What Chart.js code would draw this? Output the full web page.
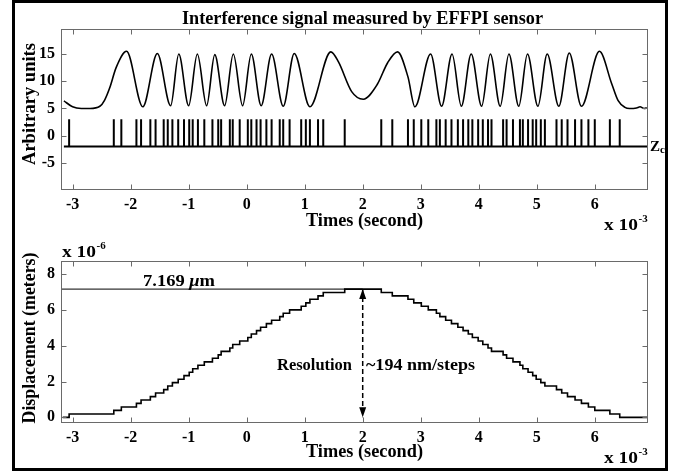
<!DOCTYPE html>
<html><head><meta charset="utf-8">
<script src="https://cdn.jsdelivr.net/npm/chart.js@4/dist/chart.umd.min.js"></script>
<style>
html,body{margin:0;padding:0;background:#fff;}
#wrap{position:relative;width:675px;height:472px;overflow:hidden;background:#fff;}
#frame{position:absolute;left:12px;top:0;width:656px;height:471px;border:3px solid #000;box-sizing:border-box;}
canvas{position:absolute;left:0;}
#c1{top:0}
#c2{top:236px}
</style></head>
<body><div id="wrap"><div id="frame"></div>
<canvas id="c1" width="675" height="236"></canvas>
<canvas id="c2" width="675" height="236"></canvas></div>
<script>
// ---------- data ----------
const timeTicks = [-3,-2,-1,0,1,2,3,4,5,6];          // x 10^-3 s
const signalTicks = [-5,0,5,10,15];
const dispTicks = [0,2,4,6,8];                          // x 10^-6 m

const signalTime = [-3.15,-3.0,-2.85,-2.7,-2.53,-2.45,-2.36,-2.25,-2.07,-1.79,-1.54,-1.31,-1.17,-1.00,-0.85,-0.69,-0.55,-0.38,-0.23,-0.07,0.08,0.25,0.43,0.63,0.82,1.09,1.45,1.58,1.81,2.01,2.25,2.43,2.60,2.78,2.90,3.17,3.36,3.54,3.70,3.87,4.05,4.20,4.37,4.52,4.69,4.84,5.02,5.18,5.38,5.56,5.77,6.08,6.29,6.40,6.52,6.60,6.72,6.78,6.85,6.90];
const signalValue = [6.4,5.3,5.0,5.0,5.4,6.5,8.8,12.5,15.5,5.3,15.1,5.5,15.0,5.5,15.0,5.5,14.9,5.5,15.0,5.5,15.0,5.5,15.0,5.4,15.1,5.3,15.4,13.6,8.1,6.7,9.4,13.4,15.4,10.8,5.3,15.0,5.4,15.0,5.4,15.0,5.4,15.0,5.4,15.0,5.4,15.0,5.4,15.0,5.4,15.2,5.4,15.5,9.6,6.5,5.2,5.0,5.1,5.3,5.0,5.1];

const pulseTimes = [-3.06,-2.29,-2.16,-1.90,-1.82,-1.66,-1.57,-1.43,-1.36,-1.28,-1.18,-1.08,-0.99,-0.93,-0.84,-0.73,-0.59,-0.49,-0.44,-0.29,-0.24,-0.12,0.02,0.08,0.17,0.24,0.34,0.43,0.57,0.63,0.74,0.94,1.02,1.09,1.23,1.32,1.69,
  2.32,2.51,2.78,2.88,3.01,3.13,3.27,3.33,3.43,3.53,3.64,3.73,3.82,3.89,3.99,4.07,4.16,4.22,4.42,4.48,4.59,4.71,4.76,4.85,4.93,4.99,5.07,5.14,5.34,5.43,5.53,5.66,5.77,5.89,6.00,6.26,6.43];
const pulseLow = -2;   // Zc level
const pulseHigh = 3;
const pulseStart = -3.15, pulseEnd = 6.9;

// displacement level (micrometres) reached after each pulse
const dispLevels = [0.19,0.39,0.58,0.78,0.97,1.16,1.36,1.55,1.75,1.94,2.13,2.33,2.52,2.72,2.91,3.10,3.30,3.49,3.69,3.88,4.07,4.27,4.46,4.66,4.85,5.04,5.24,5.43,5.63,5.82,6.01,6.21,6.40,6.60,6.79,6.98,7.17,
  6.98,6.79,6.60,6.40,6.21,6.01,5.82,5.63,5.43,5.24,5.04,4.85,4.66,4.46,4.27,4.07,3.88,3.69,3.49,3.30,3.10,2.91,2.72,2.52,2.33,2.13,1.94,1.75,1.55,1.36,1.16,0.97,0.78,0.58,0.39,0.19,0.00];
const dispStart = [-3.17, 0.0];
const dispEnd = [6.9, 0.0];
const peakDisplacement = 7.169;
const arrowTime = 2;

// ---------- rendering ----------
const FONT = "'Liberation Serif','Times New Roman',serif";
const X_MIN = -3.2, X_MAX = 6.9;

function txt(ctx, s, x, y, o) {
  o = Object.assign({size:16, weight:'bold', style:'normal', align:'left', baseline:'alphabetic', width:null, rotate:0}, o||{});
  ctx.save();
  ctx.font = `${o.style} ${o.weight} ${o.size}px ${FONT}`;
  ctx.textAlign = o.align; ctx.textBaseline = o.baseline; ctx.fillStyle = '#000';
  ctx.translate(x, y);
  if (o.rotate) ctx.rotate(o.rotate);
  if (o.width) { const w = ctx.measureText(s).width; ctx.scale(o.width / w, 1); }
  ctx.fillText(s, 0, 0);
  ctx.restore();
}
function multiplier(ctx, exp, x, y) {
  txt(ctx, 'x 10', x, y, {size: 16, width: 34});
  txt(ctx, exp, x + 34.5, y - 8, {size: 11});
}

const boxPlugin = {
  id: 'box',
  afterDatasetsDraw(chart) {
    const {ctx, chartArea: a, scales: {x, y}} = chart;
    ctx.save();
    ctx.strokeStyle = '#6a6a6a'; ctx.lineWidth = 1;
    const L = Math.round(a.left) + 0.5, R = Math.round(a.right) + 0.5, T = Math.round(a.top) + 0.5, B = Math.round(a.bottom) + 0.5;
    ctx.strokeRect(L, T, R - L, B - T);
    ctx.beginPath();
    const tl = 5;
    x.ticks.forEach(t => { const px = Math.round(x.getPixelForValue(t.value)) + 0.5; ctx.moveTo(px, B); ctx.lineTo(px, B - tl); ctx.moveTo(px, T); ctx.lineTo(px, T + tl); });
    y.ticks.forEach(t => { const py = Math.round(y.getPixelForValue(t.value)) + 0.5; ctx.moveTo(L, py); ctx.lineTo(L + tl, py); ctx.moveTo(R, py); ctx.lineTo(R - tl, py); });
    ctx.stroke();
    ctx.restore();
  }
};

function scaleCfg(min, max, ticks, fitFn) {
  return {
    type: 'linear', min, max,
    afterBuildTicks: s => { s.ticks = ticks.map(v => ({value: v})); },
    afterFit: fitFn,
    grid: {display: false, drawTicks: false},
    border: {display: false},
    ticks: {font: {family: FONT, size: 16, weight: 'bold'}, color: '#000', padding: 6, maxRotation: 0, autoSkip: false, callback: v => String(v)}
  };
}

// ---- top chart ----
const signalData = signalTime.map((t, i) => ({x: t, y: signalValue[i]}));
const pulseData = [{x: pulseStart, y: pulseLow}];
pulseTimes.forEach(t => { pulseData.push({x: t, y: pulseLow}, {x: t, y: pulseHigh}, {x: t, y: pulseLow}); });
pulseData.push({x: pulseEnd, y: pulseLow});

const topText = {
  id: 'topText',
  afterDraw(chart) {
    const ctx = chart.ctx;
    txt(ctx, 'Interference signal measured by EFFPI sensor', 362.5, 24, {size: 18, align: 'center', width: 361});
    txt(ctx, 'Arbitrary units', 30, 104, {size: 18, align: 'center', baseline: 'middle', rotate: -Math.PI / 2, width: 122});
    txt(ctx, 'Times (second)', 364.5, 226, {size: 18, align: 'center', width: 117});
    multiplier(ctx, '-3', 604, 230);
    txt(ctx, 'Z', 650, 151, {size: 15});
    txt(ctx, 'c', 660, 153, {size: 11});
  }
};

new Chart(document.getElementById('c1'), {
  type: 'line',
  data: {datasets: [
    {data: signalData, borderColor: '#000', borderWidth: 1.6, pointRadius: 0, cubicInterpolationMode: 'monotone', fill: false},
    {data: pulseData, borderColor: '#000', borderWidth: 2, pointRadius: 0, tension: 0, fill: false}
  ]},
  options: {
    responsive: false, animation: false, devicePixelRatio: 1,
    layout: {padding: {left: 0, right: 28, top: 29, bottom: 0}},
    plugins: {legend: {display: false}, tooltip: {enabled: false}},
    scales: {
      x: scaleCfg(X_MIN, X_MAX, timeTicks, s => { s.height = 47; }),
      y: scaleCfg(-9.8, 19.6, signalTicks, s => { s.width = 61; })
    }
  },
  plugins: [boxPlugin, topText]
});

// ---- bottom chart ----
const stairData = [{x: dispStart[0], y: dispStart[1]}];
pulseTimes.forEach((t, i) => stairData.push({x: t, y: dispLevels[i]}));
stairData.push({x: dispEnd[0], y: dispEnd[1]});

const bottomText = {
  id: 'bottomText',
  afterDraw(chart) {
    const ctx = chart.ctx, y = chart.scales.y, x = chart.scales.x;
    const ax = x.getPixelForValue(arrowTime);
    const yTop = y.getPixelForValue(peakDisplacement), yBot = y.getPixelForValue(0);
    ctx.save(); ctx.fillStyle = '#000';
    ctx.beginPath(); ctx.moveTo(ax, yTop); ctx.lineTo(ax - 3.5, yTop + 10); ctx.lineTo(ax + 3.5, yTop + 10); ctx.closePath(); ctx.fill();
    ctx.beginPath(); ctx.moveTo(ax, yBot); ctx.lineTo(ax - 3.5, yBot - 10); ctx.lineTo(ax + 3.5, yBot - 10); ctx.closePath(); ctx.fill();
    ctx.restore();
    txt(ctx, 'Displacement (meters)', 30, 102, {size: 18, align: 'center', baseline: 'middle', rotate: -Math.PI / 2, width: 171});
    txt(ctx, 'Times (second)', 364.5, 221, {size: 18, align: 'center', width: 117});
    multiplier(ctx, '-3', 604, 226.5);
    multiplier(ctx, '-6', 62, 20.5);
    const parts = [['7.169 ', 'normal'], ['\u03bc', 'italic'], ['m', 'normal']];
    let total = 0; const ws = [];
    ctx.save();
    parts.forEach(p => { ctx.font = `${p[1]} bold 17px ${FONT}`; const w = ctx.measureText(p[0]).width; ws.push(w); total += w; });
    ctx.restore();
    const sc = 72 / total; let cx = 143;
    parts.forEach((p, i) => { txt(ctx, p[0], cx, 50, {size: 17, style: p[1], width: ws[i] * sc}); cx += ws[i] * sc; });
    txt(ctx, 'Resolution', 352, 134, {size: 17, align: 'right', width: 75});
    txt(ctx, '~194 nm/steps', 366, 134, {size: 17, align: 'left', width: 109});
  }
};

new Chart(document.getElementById('c2'), {
  type: 'line',
  data: {datasets: [
    {data: stairData, borderColor: '#000', borderWidth: 1.6, pointRadius: 0, stepped: 'before', fill: false},
    {data: [{x: X_MIN, y: peakDisplacement}, {x: arrowTime, y: peakDisplacement}], borderColor: '#000', borderWidth: 1, pointRadius: 0, fill: false},
    {data: [{x: arrowTime, y: peakDisplacement}, {x: arrowTime, y: 0}], borderColor: '#000', borderWidth: 1.5, borderDash: [5, 3], pointRadius: 0, fill: false}
  ]},
  options: {
    responsive: false, animation: false, devicePixelRatio: 1,
    layout: {padding: {left: 0, right: 28, top: 25, bottom: 0}},
    plugins: {legend: {display: false}, tooltip: {enabled: false}},
    scales: {
      x: scaleCfg(X_MIN, X_MAX, timeTicks, s => { s.height = 50; }),
      y: scaleCfg(-0.26, 8.74, dispTicks, s => { s.width = 61; })
    }
  },
  plugins: [boxPlugin, bottomText]
});
</script>
</body></html>
